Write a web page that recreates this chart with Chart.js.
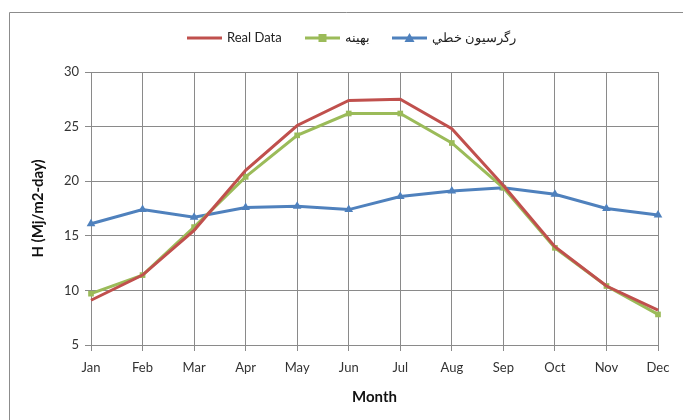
<!DOCTYPE html>
<html>
<head>
<meta charset="utf-8">
<script src="https://cdn.jsdelivr.net/npm/chart.js@4"></script>
<style>
  body { margin: 0; background: #fff; }
  #wrap { width: 683px; height: 420px; }
</style>
</head>
<body>
<div id="wrap"><canvas id="myChart" width="683" height="420"></canvas></div>
<script>
const months = ['Jan', 'Feb', 'Mar', 'Apr', 'May', 'Jun', 'Jul', 'Aug', 'Sep', 'Oct', 'Nov', 'Dec'];
const realData = [9.1, 11.4, 15.5, 21.0, 25.1, 27.4, 27.5, 24.8, 19.6, 14.0, 10.4, 8.2];
const optimal = [9.7, 11.4, 15.8, 20.4, 24.2, 26.2, 26.2, 23.5, 19.4, 13.9, 10.4, 7.8];
const linearReg = [16.1, 17.4, 16.7, 17.6, 17.7, 17.4, 18.6, 19.1, 19.4, 18.8, 17.5, 16.9];
const yTicks = [5, 10, 15, 20, 25, 30];

const red = '#C0504D';
const green = '#9BBB59';
const blue = '#4F81BD';
const font = 'Lato, "Open Sans", sans-serif';

const ctx = document.getElementById('myChart').getContext('2d');

// outer frame (left + top edge only, like the picture)
const frame = {
  id: 'frame',
  beforeDraw(chart) {
    const c = chart.ctx;
    c.save();
    c.fillStyle = '#fff';
    c.fillRect(0, 0, chart.width, chart.height);
    c.strokeStyle = '#8c8c8c';
    c.lineWidth = 1;
    c.beginPath();
    c.moveTo(9.5, chart.height);
    c.lineTo(9.5, 12.5);
    c.lineTo(chart.width, 12.5);
    c.stroke();
    c.restore();
  }
};

// excel style legend: line with marker in the middle
const legendItems = [
  { text: 'Real Data', color: red, marker: null, x: 187 },
  { text: 'بهینه', color: green, marker: 'rect', x: 305 },
  { text: 'رگرسیون خطي', color: blue, marker: 'triangle', x: 392 }
];
const excelLegend = {
  id: 'excelLegend',
  afterDraw(chart) {
    const c = chart.ctx;
    const y = 38;
    c.save();
    legendItems.forEach(item => {
      c.strokeStyle = item.color;
      c.lineWidth = 3;
      c.beginPath();
      c.moveTo(item.x, y);
      c.lineTo(item.x + 35, y);
      c.stroke();
      const mx = item.x + 17.5;
      c.fillStyle = item.color;
      if (item.marker === 'rect') {
        c.fillRect(mx - 4, y - 4, 8, 8);
      } else if (item.marker === 'triangle') {
        c.beginPath();
        c.moveTo(mx, y - 5);
        c.lineTo(mx + 5, y + 4);
        c.lineTo(mx - 5, y + 4);
        c.closePath();
        c.fill();
      }
      c.fillStyle = '#222';
      c.font = '13px ' + font;
      c.textBaseline = 'middle';
      c.textAlign = 'left';
      c.direction = 'ltr';
      c.fillText(item.text, item.x + 40, y);
    });
    c.restore();
  }
};

const data = {
  labels: months,
  datasets: [
    {
      label: 'Real Data',
      data: realData,
      borderColor: red,
      backgroundColor: red,
      borderWidth: 3,
      pointRadius: 0
    },
    {
      label: 'بهینه',
      data: optimal,
      borderColor: green,
      backgroundColor: green,
      borderWidth: 3,
      pointStyle: 'rect',
      pointRadius: 4,
      pointBorderWidth: 0
    },
    {
      label: 'رگرسیون خطي',
      data: linearReg,
      borderColor: blue,
      backgroundColor: blue,
      borderWidth: 3,
      pointStyle: 'triangle',
      pointRadius: 5,
      pointBorderWidth: 0
    }
  ]
};

const config = {
  type: 'line',
  data: data,
  options: {
    responsive: false,
    animation: false,
    layout: { padding: { left: 25, right: 25, top: 72, bottom: 10 } },
    plugins: {
      legend: { display: false },
      tooltip: { enabled: false }
    },
    scales: {
      x: {
        offset: false,
        grid: { color: '#8a8a8a', tickLength: 6 },
        border: { color: '#8a8a8a' },
        ticks: { color: '#333', font: { family: font, size: 13 }, padding: 9, maxRotation: 0 },
        title: { display: true, text: 'Month', color: '#111', font: { family: font, size: 15, weight: 'bold' }, padding: { top: 2 } },
        afterFit(scale) { scale.height = 65; }
      },
      y: {
        min: 5,
        max: 30,
        afterBuildTicks(scale) { scale.ticks = yTicks.map(v => ({ value: v })); },
        grid: { color: '#8a8a8a', tickLength: 6 },
        border: { color: '#8a8a8a' },
        ticks: { color: '#333', font: { family: font, size: 13 }, padding: 6 },
        title: { display: true, text: 'H (Mj/m2-day)', color: '#111', font: { family: font, size: 15, weight: 'bold' }, padding: { bottom: 4 } },
        afterFit(scale) { scale.width = 66; }
      }
    }
  },
  plugins: [frame, excelLegend]
};

let myChart = new Chart(ctx, config);
</script>
</body>
</html>
